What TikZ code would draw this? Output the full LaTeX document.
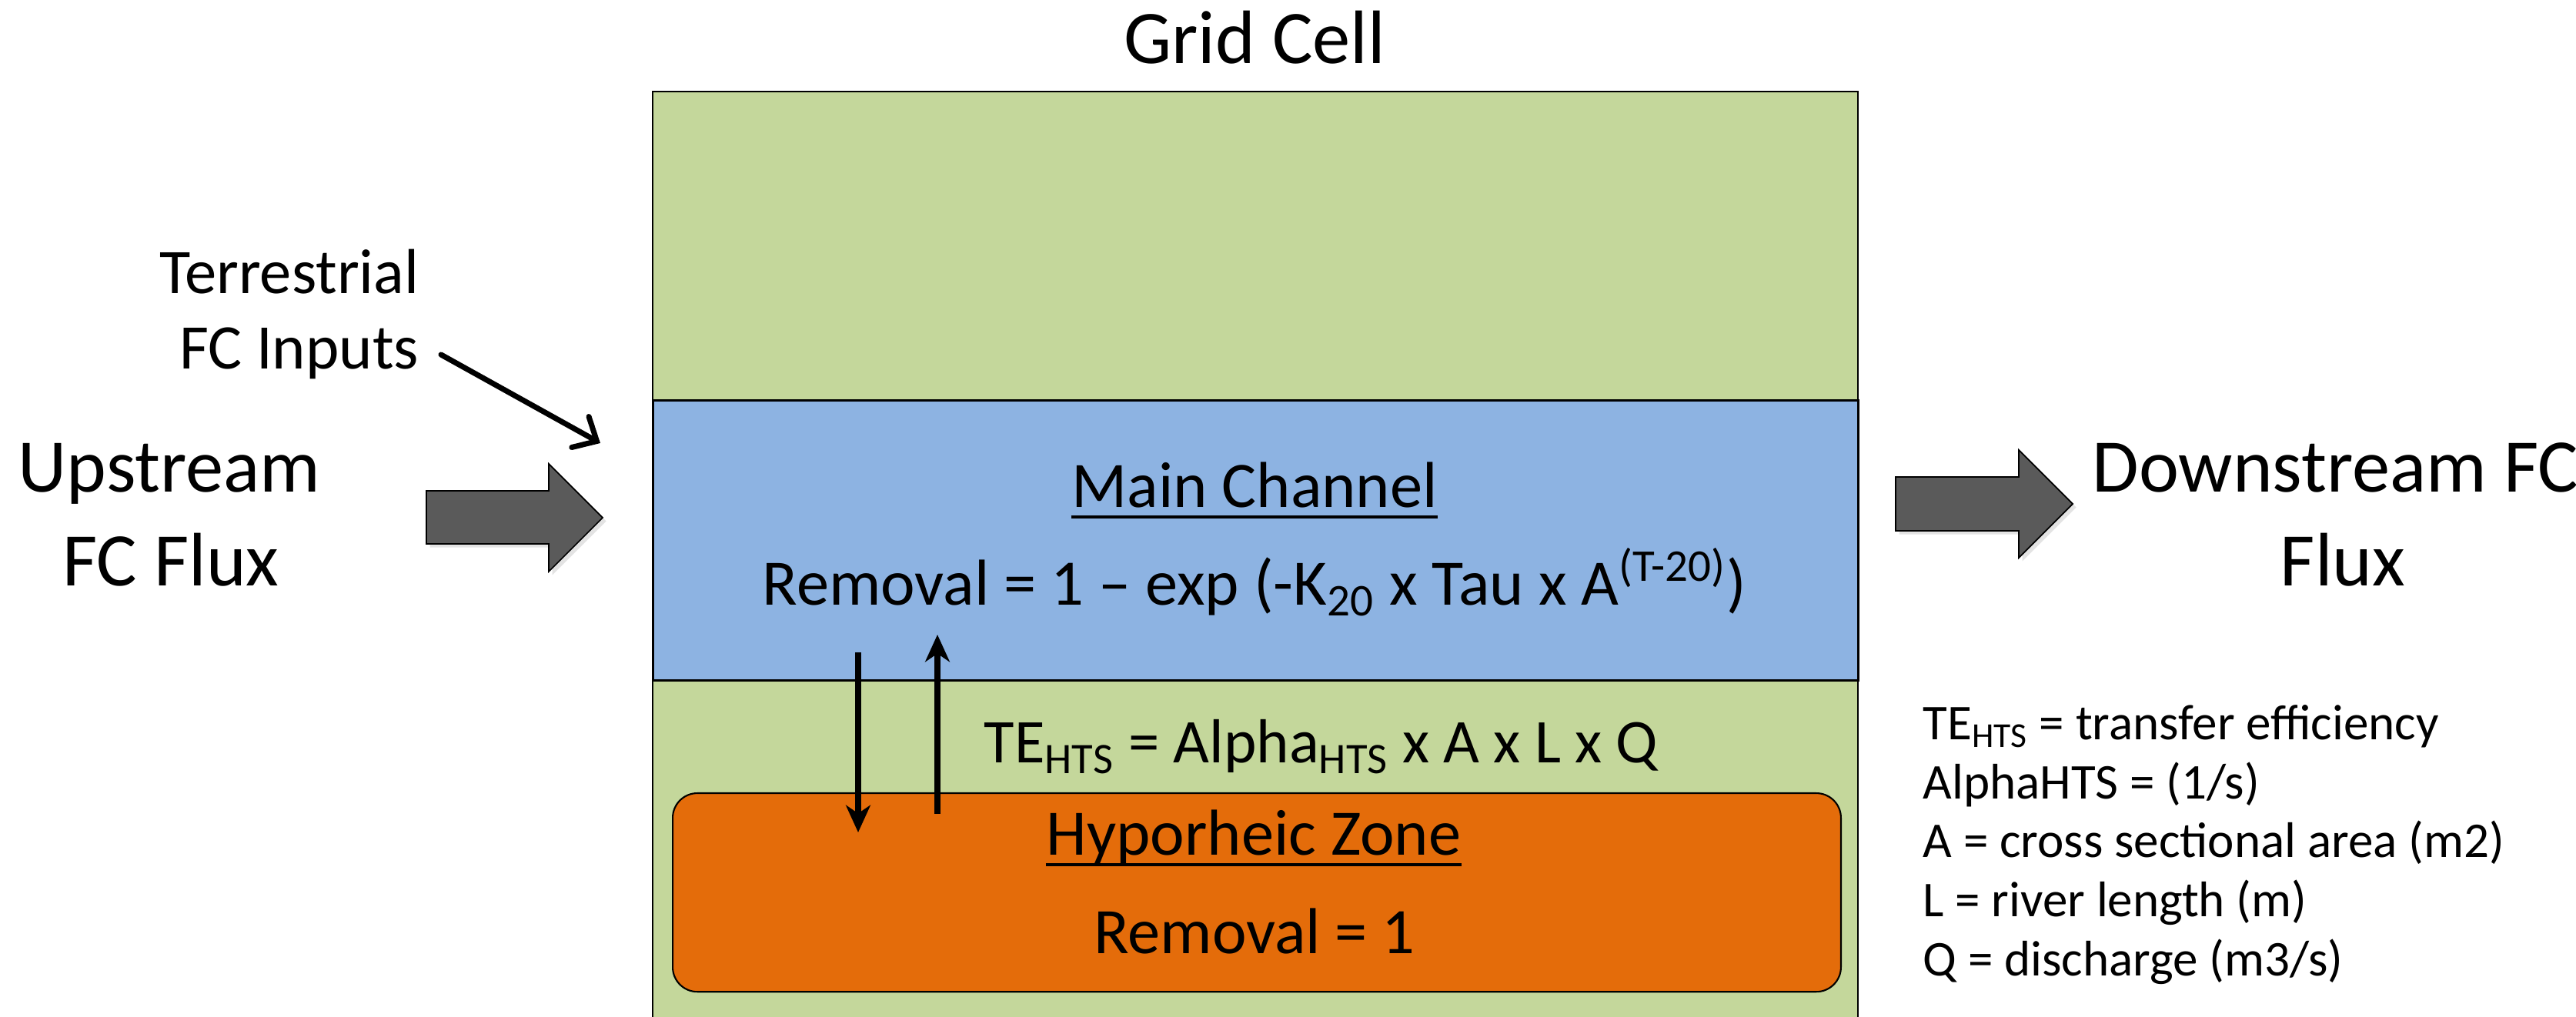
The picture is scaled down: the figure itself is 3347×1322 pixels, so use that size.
\documentclass[tikz,border=0pt]{standalone}
\usepackage{fontspec}
\setmainfont{Carlito}
\usetikzlibrary{arrows.meta,shadows}
\definecolor{cellgreen}{HTML}{C4D79B}
\definecolor{chanblue}{HTML}{8DB3E2}
\definecolor{hzorange}{HTML}{E46C0A}
\definecolor{flowgray}{HTML}{5A5A5A}
\tikzset{
  lbl/.style={inner sep=0pt, anchor=base, text=black},
  lblw/.style={inner sep=0pt, anchor=base west, text=black},
  lble/.style={inner sep=0pt, anchor=base east, text=black},
  bigfont/.style={font=\fontsize{28}{34.7}\selectfont},
  midfont/.style={font=\fontsize{24}{29}\selectfont},
  tefont/.style={font=\fontsize{23}{28}\selectfont},
  terrfont/.style={font=\fontsize{23.5}{27.9}\selectfont},
  legfont/.style={font=\fontsize{18.5}{21.8}\selectfont},
  cellbox/.style={fill=cellgreen, draw=black, line width=0.6pt, inner sep=0pt, anchor=north west},
  chanbox/.style={fill=chanblue, draw=black, line width=0.9pt, inner sep=0pt, anchor=north west},
  hzbox/.style={fill=hzorange, draw=black, line width=0.6pt, inner sep=0pt, anchor=north west, rounded corners=0.32cm},
  blockarrow/.style={fill=flowgray, draw=black, line width=0.5pt,
     drop shadow={shadow xshift=1.3pt, shadow yshift=-1.3pt, opacity=0.22}},
  flow/.style={line width=2pt, -{Stealth[length=10pt,width=9pt,inset=3pt]}},
  inflow/.style={line width=2pt, line cap=round, -{Straight Barb[length=7pt,width=13pt,line cap=round]}},
  uline/.style={line width=1.2pt},
}
\begin{document}
\begin{tikzpicture}[x=0.01cm, y=-0.01cm]
\useasboundingbox (0,0) rectangle (3347,1322);
\fill[white] (0,0) rectangle (3347,1322);

% grid cell
\node[cellbox, minimum width=15.65cm, minimum height=12.3cm] (grid) at (847,118) {};
\node[chanbox, minimum width=15.65cm, minimum height=3.64cm] (chan) at (847,519) {};
\node[hzbox, minimum width=15.17cm, minimum height=2.58cm] (hz) at (873,1030) {};

% title
\node[lbl, bigfont] (title) at (1630,83) {Grid Cell};

% block arrows
\draw[blockarrow] (554,638) -- (713,638) -- (713,603) -- (783,673) -- (713,743) -- (713,707) -- (554,707) -- cycle;
\draw[blockarrow] (2463,620) -- (2623,620) -- (2623,585) -- (2693,655) -- (2623,725) -- (2623,690) -- (2463,690) -- cycle;

% upstream / downstream labels
\node[lbl, bigfont] (up1) at (220,640) {Upstream};
\node[lbl, bigfont] (up2) at (222,762) {FC Flux};
\node[lblw, bigfont] (dn1) at (2718,640) {Downstream FC};
\node[lbl, bigfont] (dn2) at (3044,762) {Flux};

% terrestrial inputs
\node[lble, terrfont] (ter1) at (545,382) {Terrestrial};
\node[lble, terrfont] (ter2) at (545,480) {FC Inputs};
\coordinate (terS) at (573,461);
\coordinate (terE) at (780,576);
\draw[inflow] (terS) -- (terE);

% main channel
\node[lbl, midfont] (mc) at (1630,660) {Main Channel};
\draw[uline] ([yshift=-3.4pt]mc.base west) -- ([yshift=-3.4pt]mc.base east);
\node[lbl, midfont] (mcf) at (1630,787) {Removal = 1 – exp (-K\textsubscript{20} x Tau x A\textsuperscript{(T-20)})};

% exchange
\coordinate (dA) at (1115,848);
\coordinate (dB) at (1115,1082);
\coordinate (uA) at (1218,1058);
\coordinate (uB) at (1218,825);
\draw[flow] (dA) -- (dB);
\draw[flow] (uA) -- (uB);
\node[lblw, tefont] (te) at (1278,992) {TE\textsubscript{HTS} = Alpha\textsubscript{HTS} x A x L x Q};

% hyporheic zone
\node[lbl, midfont] (hzt) at (1629,1112) {Hyporheic Zone};
\draw[uline] ([yshift=-3.4pt]hzt.base west) -- ([yshift=-3.4pt]hzt.base east);
\node[lbl, midfont] (hzf) at (1630,1239) {Removal = 1};

% legend
\node[lblw, legfont] (l1) at (2498,962) {TE\textsubscript{HTS} = transfer efficiency};
\node[lblw, legfont] (l2) at (2498,1038.5) {AlphaHTS = (1/s)};
\node[lblw, legfont] (l3) at (2498,1115) {A = cross sectional area (m2)};
\node[lblw, legfont] (l4) at (2498,1191.5) {L = river length (m)};
\node[lblw, legfont] (l5) at (2498,1268) {Q = discharge (m3/s)};
\end{tikzpicture}
\end{document}
